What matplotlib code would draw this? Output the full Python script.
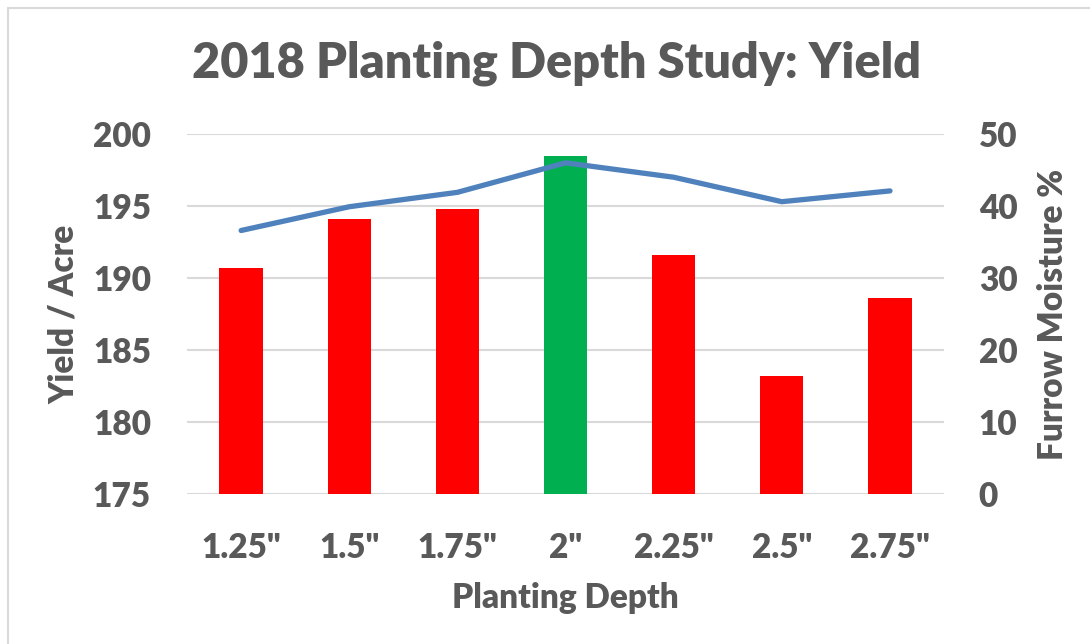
import matplotlib.pyplot as plt
import matplotlib.patches as mpatches
import numpy as np

plt.rcParams['font.family'] = ['Lato', 'DejaVu Sans']
plt.rcParams['font.weight'] = 'heavy'

# data
depths = ['1.25"', '1.5"', '1.75"', '2"', '2.25"', '2.5"', '2.75"']
yield_acre = [190.7, 194.1, 194.8, 198.5, 191.6, 183.2, 188.6]
moisture = [36.6, 39.9, 41.9, 46.0, 44.0, 40.6, 42.1]
bar_colors = ['#FF0000', '#FF0000', '#FF0000', '#00B050', '#FF0000', '#FF0000', '#FF0000']

grey = '#595959'
fw = 'heavy'
x = np.arange(len(depths))

fig = plt.figure(figsize=(10.9, 6.44), dpi=100)
ax = fig.add_axes([0.1716, 0.2329, 0.6945, 0.559])
ax2 = ax.twinx()

# light chart border
fig.patches.append(mpatches.Rectangle((8 / 1090, -0.1), 1.2, 1 - 8 / 644 + 0.1,
                                      transform=fig.transFigure, fill=False,
                                      edgecolor='#D9D9D9', linewidth=1.5))

ax.bar(x, yield_acre, width=0.4, color=bar_colors, zorder=3)
ax.set_ylim(175, 200)
ax.set_yticks(np.arange(175, 201, 5))
ax.set_xlim(-0.5, len(depths) - 0.5)
ax.set_xticks(x)
ax.set_xticklabels(depths)
ax.grid(axis='y', color='#D9D9D9', linewidth=1.5, zorder=0)
ax.set_axisbelow(True)

ax2.plot(x, moisture, color='#4F81BD', linewidth=3.8, solid_capstyle='round',
         solid_joinstyle='round', zorder=4)
ax2.set_ylim(0, 50)
ax2.set_yticks(np.arange(0, 51, 10))

for a in (ax, ax2):
    for s in a.spines.values():
        s.set_visible(False)
    a.tick_params(length=0, labelsize=24, labelcolor=grey)
    for lbl in a.get_xticklabels() + a.get_yticklabels():
        lbl.set_fontweight(fw)

ax.tick_params(axis='x', pad=27)
ax.tick_params(axis='y', pad=26)
ax2.tick_params(axis='y', pad=25)

ax.set_xlabel('Planting Depth', fontsize=24, color=grey, fontweight=fw)
ax.xaxis.set_label_coords(0.5, -0.245)
ax.set_ylabel('Yield / Acre', fontsize=24, color=grey, fontweight=fw)
ax.yaxis.set_label_coords(-0.141, 0.5)
ax2.set_ylabel('Furrow Moisture %', fontsize=24, color=grey, fontweight=fw)
ax2.yaxis.set_label_coords(1.123, 0.5)

fig.text(556 / 1090, 1 - 63 / 644, '2018 Planting Depth Study: Yield',
         ha='center', va='center', fontsize=35, color=grey, fontweight=fw)

fig.savefig('out.png', dpi=100)
